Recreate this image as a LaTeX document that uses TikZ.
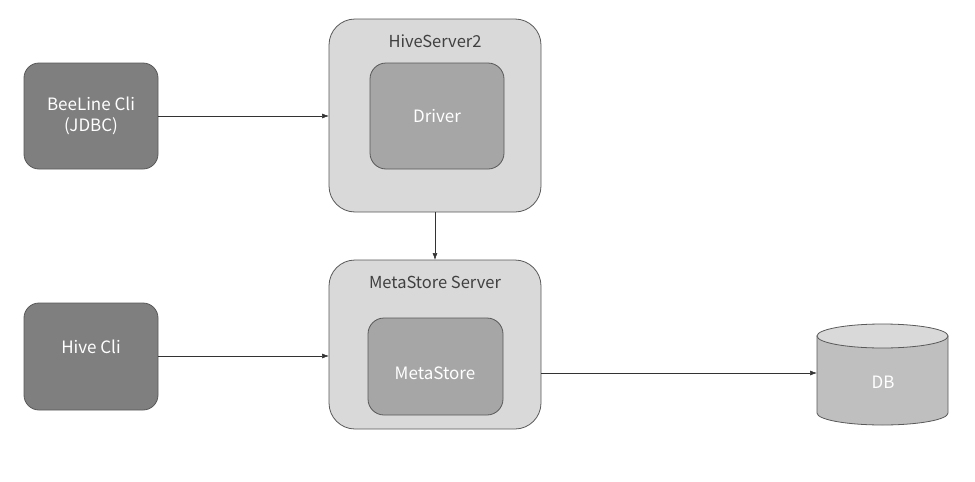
\documentclass[tikz,border=0pt]{standalone}
\usepackage{fontspec}
\setmainfont{Noto Sans CJK SC}
\usetikzlibrary{arrows.meta}
\definecolor{darkbox}{HTML}{7F7F7F}
\definecolor{lightbox}{HTML}{D9D9D9}
\definecolor{midbox}{HTML}{A6A6A6}
\definecolor{dbbody}{HTML}{BFBFBF}
\definecolor{edge}{HTML}{595959}
\definecolor{labelgray}{HTML}{404040}
\tikzset{
  client/.style={draw=edge, line width=0.8pt, fill=darkbox, rounded corners=15pt},
  server/.style={draw=edge, line width=0.8pt, fill=lightbox, rounded corners=26pt},
  inner/.style={draw=edge, line width=0.8pt, fill=midbox, rounded corners=16pt},
  wtxt/.style={text=white, font=\fontsize{17}{21}\selectfont, align=center},
  lbl/.style={text=labelgray, font=\fontsize{16.5}{20}\selectfont},
  conn/.style={draw=black!80, line width=0.6pt, -{Latex[length=7pt,width=5pt]}},
}
\begin{document}
\begin{tikzpicture}[x=1pt,y=-1pt]
\useasboundingbox (0,0) rectangle (975,482);
% clients
\draw[client] (24,63) rectangle (158,169);
\node[wtxt] (beeline) at (91,116) {BeeLine Cli\\(JDBC)};
\coordinate (beeR) at (158,116);
\draw[client] (24,303) rectangle (158,410);
\node[wtxt] (hivecli) at (91,347) {Hive Cli};
\coordinate (hiveR) at (158,356);
% HiveServer2
\draw[server] (329,19) rectangle (541,212);
\node[lbl] (hs2) at (435,41) {HiveServer2};
\draw[inner] (370,63) rectangle (504,169);
\node[wtxt] (driver) at (437,116) {Driver};
\coordinate (hs2L) at (329,116);
\coordinate (hs2B) at (435,212);
% MetaStore Server
\draw[server] (329,260) rectangle (541,429);
\node[lbl] (mss) at (435,282) {MetaStore Server};
\draw[inner] (368,318) rectangle (503,415);
\node[wtxt] (metastore) at (435,373) {MetaStore};
\coordinate (mssT) at (435,260);
\coordinate (mssL) at (329,356);
\coordinate (mssR) at (541,373);
% DB cylinder
\draw[draw=edge, line width=0.8pt, fill=dbbody]
  (817,336) -- (817,413) arc[start angle=180, end angle=0, x radius=65.5, y radius=12]
  -- (948,336) -- cycle;
\draw[draw=edge, line width=0.8pt, fill=lightbox] (882.5,336) ellipse[x radius=65.5, y radius=12];
\node[wtxt] (db) at (883,382) {DB};
\coordinate (dbL) at (817,373);
% connectors
\draw[conn] (beeR) -- (hs2L);
\draw[conn] (hiveR) -- (mssL);
\draw[conn] (hs2B) -- (mssT);
\draw[conn] (mssR) -- (dbL);
\end{tikzpicture}
\end{document}
